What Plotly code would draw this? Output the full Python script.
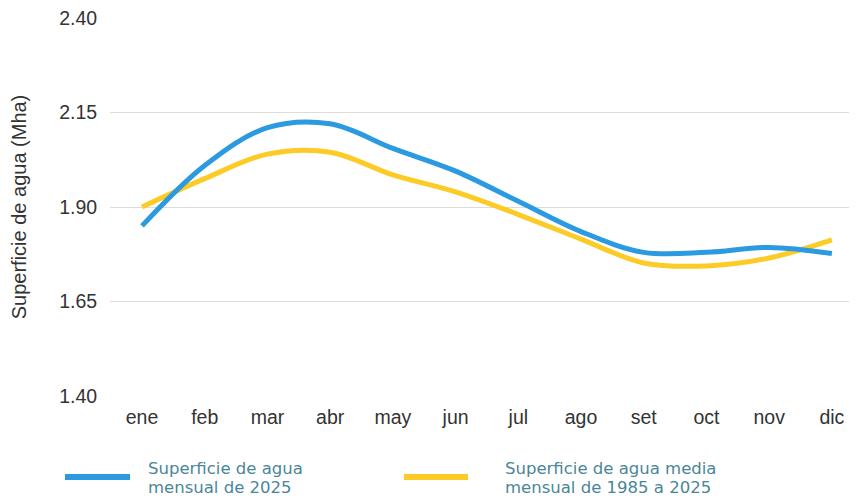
import plotly.graph_objects as go

# datos
meses = ["ene", "feb", "mar", "abr", "may", "jun", "jul", "ago", "set", "oct", "nov", "dic"]
agua_2025 = [1.850, 2.010, 2.110, 2.120, 2.055, 1.995, 1.915, 1.835, 1.780, 1.780, 1.793, 1.777]
agua_media = [1.900, 1.975, 2.040, 2.045, 1.985, 1.940, 1.880, 1.815, 1.752, 1.744, 1.765, 1.813]

nombres = [
    ["Superficie de agua", "mensual de 2025"],
    ["Superficie de agua media", "mensual de 1985 a 2025"],
]
colores = ["#2b9ae0", "#fdcb26"]

fig = go.Figure()

# serie media primero para que la de 2025 quede encima
fig.add_trace(go.Scatter(
    x=meses, y=agua_media, mode="lines",
    line=dict(color=colores[1], width=5, shape="spline", smoothing=1.0),
    showlegend=False,
))
fig.add_trace(go.Scatter(
    x=meses, y=agua_2025, mode="lines",
    line=dict(color=colores[0], width=5, shape="spline", smoothing=1.0),
    showlegend=False,
))

# la pagina tiene 8px de margen en el body
fig.update_layout(
    width=849, height=493,
    margin=dict(l=102, r=0, t=10, b=105),
    paper_bgcolor="white", plot_bgcolor="white",
    font=dict(family="Liberation Sans, Arial", color="#333333"),
    xaxis=dict(
        type="category", range=[-0.51, 11.4],
        showgrid=False, zeroline=False, showline=False,
        ticks="outside", ticklen=4, tickcolor="rgba(0,0,0,0)",
        tickfont=dict(size=19.5, color="#333333"),
    ),
    yaxis=dict(
        range=[1.40, 2.40], tickvals=[1.40, 1.65, 1.90, 2.15, 2.40],
        tickformat=".2f", showgrid=True, gridcolor="#dcdcdc", gridwidth=1,
        zeroline=False, showline=False, ticklabeloverflow="allow",
        ticks="outside", ticklen=8, tickcolor="rgba(0,0,0,0)",
        tickfont=dict(size=19.5, color="#333333"),
        title=dict(text="Superficie de agua (Mha)", font=dict(size=20, color="#333333"), standoff=28),
    ),
)

# leyenda manual
ancho = 747.0
alto = 378.0
for i, (x0, x1, xt) in enumerate([(65, 130, 146), (404, 468, 503)]):
    fig.add_shape(
        type="line", xref="paper", yref="paper",
        x0=(x0 - 110) / ancho, x1=(x1 - 110) / ancho,
        y0=(396 - 477) / alto, y1=(396 - 477) / alto,
        line=dict(color=colores[i], width=6),
    )
    for j, yy in enumerate([468, 488]):
        fig.add_annotation(
            text=nombres[i][j], xref="paper", yref="paper",
            x=(xt - 110) / ancho, y=(396 - yy) / alto, xanchor="left", yanchor="middle",
            align="left", showarrow=False,
            font=dict(family="DejaVu Sans", size=16.5, color="#4a8697"),
        )

fig.write_html("out.html")
